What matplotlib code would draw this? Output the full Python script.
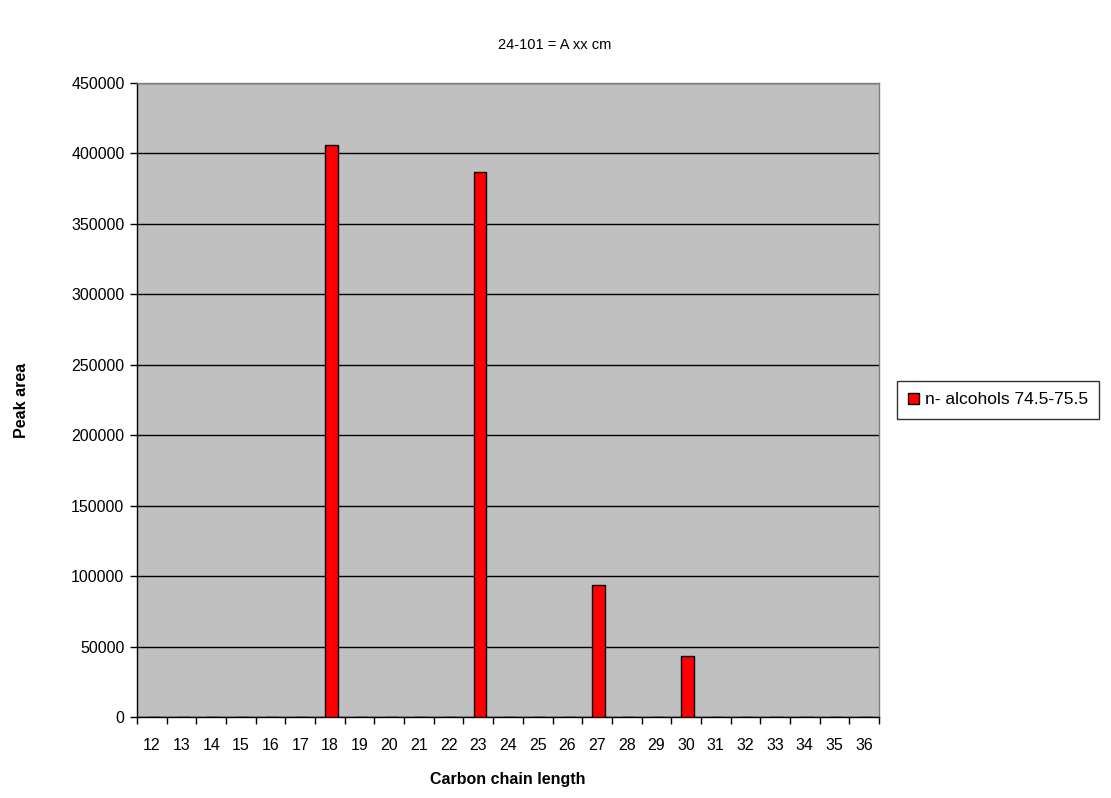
import matplotlib
matplotlib.use("Agg")
import matplotlib.pyplot as plt
import numpy as np

plt.rcParams['font.family'] = ['Liberation Sans', 'DejaVu Sans']

categories = [str(c) for c in range(12, 37)]
values = [0, 0, 0, 0, 0, 0, 406000, 0, 0, 0, 0, 387000, 0, 0, 0, 93500, 0, 0, 43500,
          0, 0, 0, 0, 0, 0]
series_name = "n- alcohols 74.5-75.5"
title = "24-101 = A xx cm"
yticks = [0, 50000, 100000, 150000, 200000, 250000, 300000, 350000, 400000, 450000]

fig = plt.figure(figsize=(11.11, 7.98), dpi=100)
ax = fig.add_axes([137/1111, 81/798, (879-137)/1111, (717-83)/798])
ax.set_facecolor('#C0C0C0')

x = np.arange(len(categories))
bars = ax.bar(x + 0.05, values, width=0.42, color='#FF0000', edgecolor='black', linewidth=1.0,
              label=series_name, zorder=3)

ax.set_xlim(-0.5, len(categories) - 0.5)
ax.set_ylim(0, 450000)
ax.set_yticks(yticks)
ax.set_yticklabels([str(v) for v in yticks], fontsize=11.5)
ax.yaxis.grid(True, color='black', linewidth=1.0, zorder=1)
ax.set_axisbelow(True)

ax.set_xticks(x)
ax.set_xticklabels(categories, fontsize=11.5)
ax.tick_params(axis='x', which='major', length=0, pad=15)
ax.set_xticks(np.arange(-0.5, len(categories)), minor=True)
ax.tick_params(axis='x', which='minor', length=5, width=1, color='black', direction='out')
ax.tick_params(axis='y', length=5, width=1, direction='out', pad=4)

for s in ['top', 'right']:
    ax.spines[s].set_color('#808080')
    ax.spines[s].set_linewidth(1.0)
for s in ['left', 'bottom']:
    ax.spines[s].set_color('black')
    ax.spines[s].set_linewidth(1.0)

ax.set_xlabel("Carbon chain length", fontsize=11.5, fontweight='bold', labelpad=14)
ax.set_ylabel("Peak area", fontsize=11.5, fontweight='bold', labelpad=30)
fig.text(555/1111, 1 - 45/798, title, ha='center', va='center', fontsize=10.5)

leg = fig.legend(handles=[bars], labels=[series_name], loc='center left',
                 bbox_to_anchor=(897/1111, 1 - 400/798), frameon=True, fancybox=False,
                 edgecolor='black', fontsize=12.5, handlelength=0.6, handleheight=0.6,
                 handletextpad=0.35, borderpad=0.65, borderaxespad=0)
leg.get_frame().set_linewidth(1.0)

fig.savefig("out.png", dpi=100, facecolor='white')
